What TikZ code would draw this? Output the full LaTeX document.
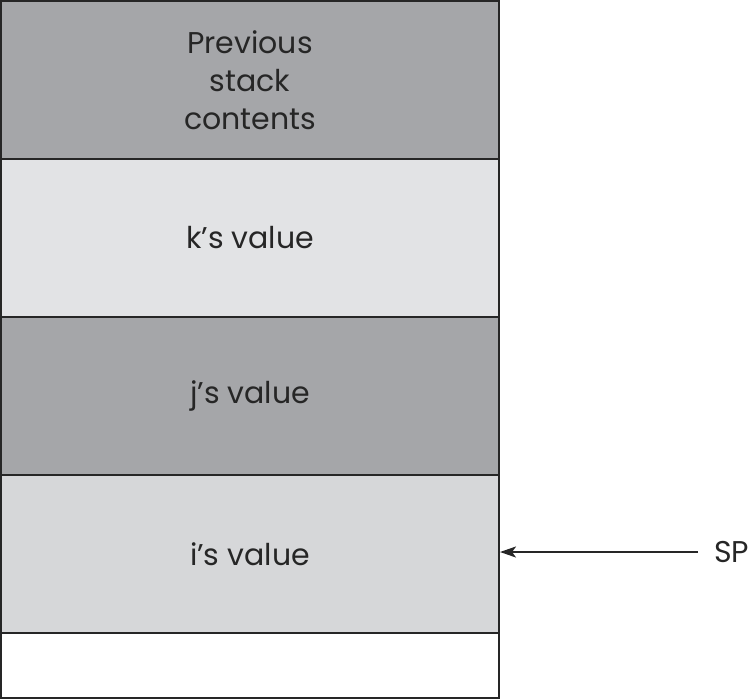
\documentclass[tikz,border=0pt]{standalone}
\usepackage{fontspec}
\setmainfont{Poppins}
\usepackage{tikz}
\usetikzlibrary{arrows.meta}

\definecolor{darkrow}{HTML}{A5A6A9}
\definecolor{lightrow}{HTML}{E2E3E5}
\definecolor{sprow}{HTML}{D6D7D9}

\begin{document}
\begin{tikzpicture}[x=1pt, y=-1pt]
        \tikzset{every node/.style={font=\fontsize{30}{38}\selectfont, text=black!85}}
        \tikzset{slot/.style={draw=black!85, line width=2pt, rectangle, minimum width=498pt, minimum height=158pt, inner sep=0pt, align=center}}
        \useasboundingbox (0,0) rectangle (749,699);
        \node[slot, fill=darkrow] (prev) at (250,80) {Previous\\stack\\contents};
        \node[slot, fill=lightrow] (k) at (250,238) {k’s value};
        \node[slot, fill=darkrow] (j) at (250,396) {j’s value};
        \node[slot, fill=sprow] (i) at (250,554) {i’s value};
        \node[slot, fill=white, minimum height=65pt] (free) at (250,665.5) {};
        % stack pointer
        \node[anchor=west, inner sep=0pt] (sp) at (714,552) {SP};
        \tikzset{mystyle/.style={-{Stealth[length=16pt,width=11pt,inset=4pt]}, line width=2.2pt, draw=black!85}}
        \coordinate (spstart) at ([xshift=-16pt]sp.west);
        \path (spstart) edge [mystyle] (i.east |- spstart);
      \end{tikzpicture}
\end{document}
